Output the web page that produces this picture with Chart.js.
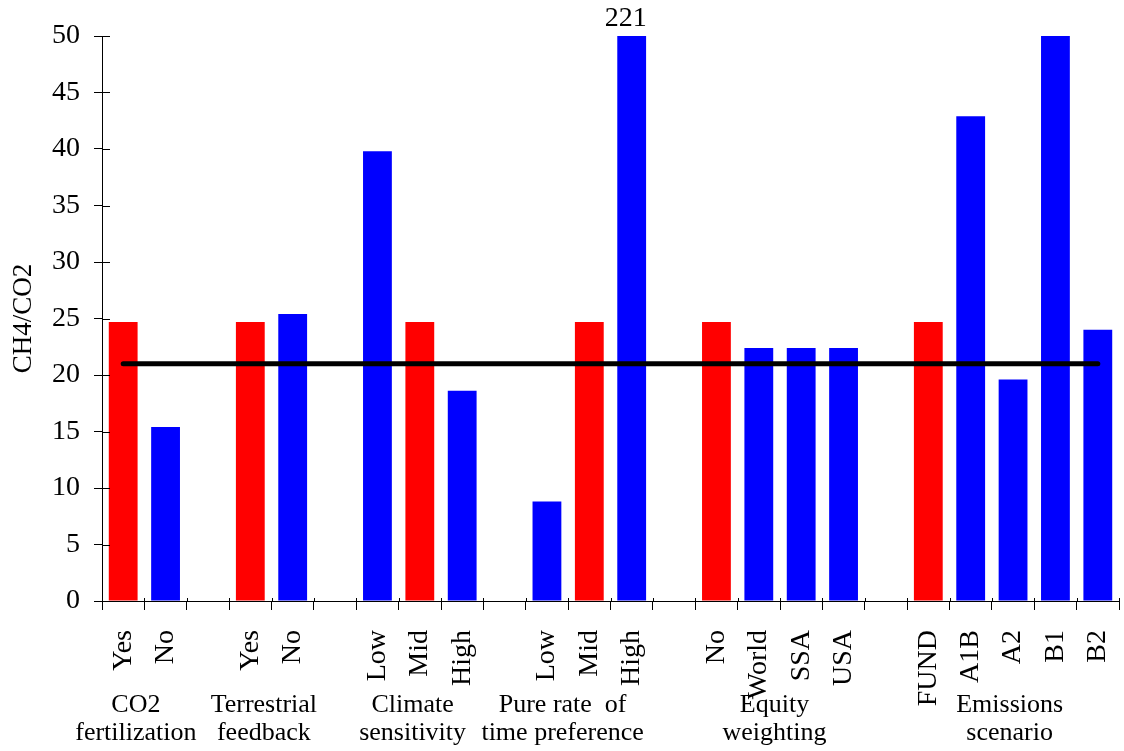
<!DOCTYPE html>
<html><head><meta charset="utf-8">
<script src="https://cdn.jsdelivr.net/npm/chart.js@4"></script>
<style>html,body{margin:0;padding:0;background:#fff}#wrap{width:1124px;height:751px;position:relative}</style>
</head><body><div id="wrap"><canvas id="c"></canvas></div>
<script>
// ---- data ----
const categories = ['Yes','No','', 'Yes','No','', 'Low','Mid','High','', 'Low','Mid','High','', 'No','World','SSA','USA','', 'FUND','A1B','A2','B1','B2'];
const baseCase =     [24.7,null,null, 24.7,null,null, null,24.7,null,null, null,24.7,null,null, 24.7,null,null,null,null, 24.7,null,null,null,null];
const alternatives = [null,15.4,null, null,25.4,null, 39.8,null,18.6,null, 8.8,null,221,null, null,22.4,22.4,22.4,null, null,42.9,19.6,51,24.0];
const referenceRatio = 21;
const annotatedBars = [12];          // off-scale bar whose value is printed above the axis
const yAxisTitle = 'CH4/CO2';
const groupNames = [['CO2','fertilization'],['Terrestrial','feedback'],['Climate','sensitivity'],['Pure rate  of','time preference'],['Equity','weighting'],['Emissions','scenario']];
const groupCenters = [0.3, 3.32, 6.83, 10.37, 15.37, 20.92]; // in category-index units

const SERIF = "'Liberation Serif','Times New Roman',serif";
const lastIdx = categories.length - 1;
// reference line spans from first to last category
const referenceLine = categories.map((_, i) => (i === 0 || i === lastIdx) ? referenceRatio : null);

const extras = {
  id: 'extras',
  afterDatasetsDraw(chart) {
    const {ctx, chartArea, scales} = chart;
    const x = scales.x, y = scales.y;
    ctx.save();
    // inner halves of tick marks (ticks cross the axes)
    ctx.strokeStyle = '#000'; ctx.lineWidth = 1;
    ctx.beginPath();
    y.ticks.forEach((t, i) => {
      const py = Math.round(y.getPixelForTick(i)) + 0.5;
      ctx.moveTo(chartArea.left, py); ctx.lineTo(chartArea.left + 8, py);
    });
    for (let i = 0; i <= categories.length; i++) {
      const px = Math.round(x.getPixelForValue(i - 0.5)) + 0.5;
      ctx.moveTo(px, chartArea.bottom); ctx.lineTo(px, chartArea.bottom - 3);
    }
    ctx.stroke();
    // value labels for off-scale bars
    const meta = chart.getDatasetMeta(1);
    ctx.fillStyle = '#000';
    ctx.font = '28px ' + SERIF;
    ctx.textAlign = 'center'; ctx.textBaseline = 'bottom';
    annotatedBars.forEach(i => {
      const el = meta.data[i];
      ctx.fillText(String(alternatives[i]), el.x - 6, chartArea.top - 3);
    });
    // group labels
    ctx.font = '26px ' + SERIF;
    ctx.textBaseline = 'middle';
    groupNames.forEach((lines, g) => {
      const px = x.getPixelForValue(groupCenters[g]);
      lines.forEach((s, k) => ctx.fillText(s, px, 705 + k * 28));
    });
    ctx.restore();
  }
};

new Chart(document.getElementById('c'), {
  data: {
    labels: categories,
    datasets: [
      { type: 'line', label: 'reference', data: referenceLine, spanGaps: true,
        borderColor: '#000', borderWidth: 5, borderCapStyle: 'round', pointRadius: 0, order: 0, clip: false },
      { type: 'bar', label: 'alternatives', data: alternatives, backgroundColor: '#0000FF',
        barPercentage: 0.68, categoryPercentage: 1, grouped: false, order: 1 },
      { type: 'bar', label: 'base case', data: baseCase, backgroundColor: '#FF0000',
        barPercentage: 0.68, categoryPercentage: 1, grouped: false, order: 1 }
    ]
  },
  options: {
    responsive: true, maintainAspectRatio: false, animation: false,
    layout: { padding: { top: 36, right: 5, left: 0, bottom: 0 } },
    plugins: { legend: { display: false }, tooltip: { enabled: false } },
    scales: {
      x: {
        type: 'category', offset: true,
        grid: { offset: true, drawOnChartArea: false, drawTicks: true, tickLength: 9, color: '#000' },
        border: { color: '#000', width: 1 },
        ticks: { autoSkip: false, maxRotation: 90, minRotation: 90, padding: 20, color: '#000', font: { family: SERIF, size: 28 } },
        afterFit(s) { s.height = 150; s.paddingLeft = 0; s.paddingRight = 0; }
      },
      y: {
        min: 0, max: 50,
        ticks: { stepSize: 5, padding: 14, color: '#000', font: { family: SERIF, size: 28 } },
        grid: { drawOnChartArea: false, drawTicks: true, tickLength: 8, color: '#000' },
        border: { color: '#000', width: 1 },
        title: { display: true, text: yAxisTitle, color: '#000', padding: { top: 8, bottom: 0 }, font: { family: SERIF, size: 27 } },
        afterFit(s) { s.width = 102; s.paddingTop = 0; s.paddingBottom = 0; }
      }
    }
  },
  plugins: [extras]
});
</script>
</body></html>
